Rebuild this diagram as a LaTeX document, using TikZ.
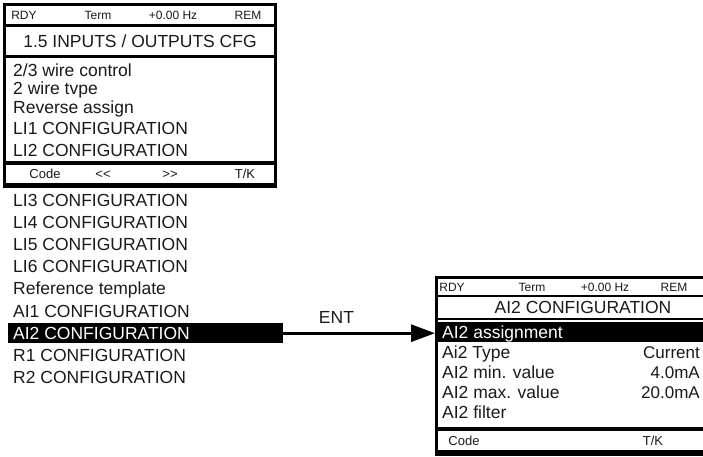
\documentclass[tikz,border=0pt]{standalone}
\usepackage{fontspec}
\setmainfont{Liberation Sans}
\usetikzlibrary{arrows.meta}
\definecolor{ink}{HTML}{1A1A1A}
\begin{document}
\begin{tikzpicture}[x=1pt,y=-1pt,
  big/.style={font=\fontsize{17.5}{17.5}\selectfont, text=ink, inner sep=0pt, text height=12.5pt, text depth=0pt, anchor=west},
  bigw/.style={big, text=white},
  val/.style={font=\fontsize{17}{17}\selectfont, text=ink, inner sep=0pt, text height=12.2pt, text depth=0pt, anchor=east},
  hdr/.style={font=\fontsize{12}{12}\selectfont, text=ink, inner sep=0pt, text height=8.6pt, text depth=0pt},
  ftr/.style={font=\fontsize{13}{13}\selectfont, text=ink, inner sep=0pt, text height=9.3pt, text depth=0pt},
  frame/.style={fill=black, inner sep=0pt, anchor=north west},
  bar/.style={fill=black, inner sep=0pt, anchor=north west},
  conn/.style={line width=3pt, -{Triangle[length=24pt,width=17pt]}}]
\useasboundingbox (0,0) rectangle (703,457);
\clip (0,0) rectangle (703,457);

% ---------- left screen ----------
\node[frame, minimum width=274pt, minimum height=185pt] (lframe) at (3,3) {};
\fill[white] (6,6) rectangle (274,24);
\fill[white] (6,27) rectangle (274,55);
\fill[white] (6,58) rectangle (274,161);
\fill[white] (6,165) rectangle (274,183);

\node[hdr] (lh1) at (24,15) {RDY};
\node[hdr] (lh2) at (98,15) {Term};
\node[hdr] (lh3) at (173,15) {+0.00 Hz};
\node[hdr] (lh4) at (248,15) {REM};

\node[big, anchor=center] (ltitle) at (140,41) {1.5 INPUTS / OUTPUTS CFG};

\node[big] (l1) at (13,70) {2/3 wire control};
\node[big] (l2) at (13,88) {2 wire tvpe};
\node[big] (l3) at (13,107) {Reverse assign};
\node[big] (l4) at (13,128) {LI1 CONFIGURATION};
\node[big] (l5) at (13,150) {LI2 CONFIGURATION};

\node[ftr] (lf1) at (45,174) {Code};
\node[ftr] (lf2) at (103,174) {{<}{<}};
\node[ftr] (lf3) at (170,174) {{>}{>}};
\node[ftr] (lf4) at (245,174) {T/K};

% ---------- list below ----------
\node[big] (m1) at (13,200) {LI3 CONFIGURATION};
\node[big] (m2) at (13,222) {LI4 CONFIGURATION};
\node[big] (m3) at (13,244) {LI5 CONFIGURATION};
\node[big] (m4) at (13,266) {LI6 CONFIGURATION};
\node[big] (m5) at (13,288) {Reference template};
\node[big] (m6) at (13,311) {AI1 CONFIGURATION};
\node[bar, minimum width=275pt, minimum height=20pt] (ai2bar) at (8,323) {};
\node[bigw] (m7) at (13,333) {AI2 CONFIGURATION};
\node[big] (m8) at (13,355) {R1 CONFIGURATION};
\node[big] (m9) at (13,377) {R2 CONFIGURATION};

% ---------- right screen ----------
\node[frame, minimum width=273pt, minimum height=180pt] (rframe) at (435,276) {};
\fill[white] (438,279) rectangle (705,295);
\fill[white] (438,297) rectangle (705,318);
\fill[white] (438,320) rectangle (705,427);
\fill[white] (438,431) rectangle (705,450);
\node[bar, minimum width=267pt, minimum height=20pt] (rbar) at (438,322) {};

\node[hdr] (rh1) at (452,287) {RDY};
\node[hdr] (rh2) at (532,287) {Term};
\node[hdr] (rh3) at (605,287) {+0.00 Hz};
\node[hdr] (rh4) at (674,287) {REM};

\node[big, anchor=center] (rtitle) at (583,307) {AI2 CONFIGURATION};

\node[bigw] (r1) at (442,332) {AI2 assignment};
\node[big] (r2) at (442,352) {Ai2 Type};
\node[big] (r3) at (442,372) {AI2 min. value};
\node[big] (r4) at (442,392) {AI2 max. value};
\node[big] (r5) at (442,412) {AI2 filter};
\node[val] (v2) at (700,352) {Current};
\node[val] (v3) at (700,372) {4.0mA};
\node[val] (v4) at (700,392) {20.0mA};

\node[ftr] (rf1) at (464,441) {Code};
\node[ftr] (rf2) at (653,441) {T/K};

% ---------- connector ----------
\draw[conn] (ai2bar.east) -- (ai2bar.east -| rframe.west)
  node[pos=0.35, above=8pt, font=\fontsize{17.5}{17.5}\selectfont, text=ink, inner sep=0pt] (ent) {ENT};
\end{tikzpicture}
\end{document}
